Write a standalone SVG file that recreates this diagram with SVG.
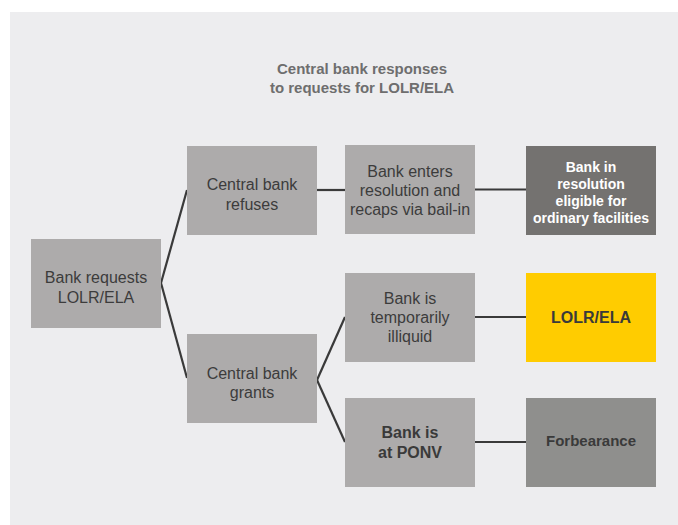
<svg xmlns="http://www.w3.org/2000/svg" width="678" height="525" viewBox="0 0 678 525">
<style>
.bg{fill:#ededef}
.box{fill:#adabab}
.dark{fill:#747270}
.yel{fill:#ffcc00}
.mid{fill:#8f8f8d}
text{font-family:"Liberation Sans",Arial,sans-serif;text-anchor:middle}
.t{font-size:16px;fill:#3c3c3c}
.b{font-size:16px;font-weight:bold;fill:#3a3a3a}
.w{font-size:14px;font-weight:bold;fill:#ffffff}
.title{font-size:15px;font-weight:bold;fill:#6e6e6e}
.conn line{stroke:#3a3a3a;stroke-width:2.2;fill:none}
</style>
<rect class="bg" x="10" y="12" width="668" height="513"/>
<g id="title">
<text class="title" x="362" y="74">Central bank responses</text>
<text class="title" x="362" y="93">to requests for LOLR/ELA</text>
</g>
<g class="conn" id="connectors">
<line x1="161" y1="283" x2="187" y2="190"/>
<line x1="161" y1="283" x2="187" y2="378"/>
<line x1="317" y1="190" x2="345" y2="190"/>
<line x1="475" y1="189.5" x2="526" y2="189.5"/>
<line x1="317" y1="380" x2="345" y2="317"/>
<line x1="317" y1="380" x2="345" y2="442"/>
<line x1="475" y1="317" x2="526" y2="317"/>
<line x1="475" y1="442" x2="526" y2="442"/>
</g>
<g id="n-request">
<rect class="box" x="31" y="239" width="130" height="89"/>
<text class="t" x="96" y="283">Bank requests</text>
<text class="t" x="96" y="303">LOLR/ELA</text>
</g>
<g id="n-refuses">
<rect class="box" x="187" y="146" width="130" height="89"/>
<text class="t" x="252" y="190">Central bank</text>
<text class="t" x="252" y="210">refuses</text>
</g>
<g id="n-enters">
<rect class="box" x="345" y="145" width="130" height="89"/>
<text class="t" x="410" y="177">Bank enters</text>
<text class="t" x="410" y="196">resolution and</text>
<text class="t" x="410" y="215">recaps via bail-in</text>
</g>
<g id="n-resolution">
<rect class="dark" x="526" y="146" width="130" height="89"/>
<text class="w" x="591" y="172">Bank in</text>
<text class="w" x="591" y="189">resolution</text>
<text class="w" x="591" y="206">eligible for</text>
<text class="w" x="591" y="223">ordinary facilities</text>
</g>
<g id="n-grants">
<rect class="box" x="187" y="334" width="130" height="89"/>
<text class="t" x="252" y="379">Central bank</text>
<text class="t" x="252" y="398">grants</text>
</g>
<g id="n-illiquid">
<rect class="box" x="345" y="273" width="130" height="89"/>
<text class="t" x="410" y="304">Bank is</text>
<text class="t" x="410" y="323">temporarily</text>
<text class="t" x="410" y="342">illiquid</text>
</g>
<g id="n-lolr">
<rect class="yel" x="526" y="273" width="130" height="89"/>
<text class="b" x="591" y="323">LOLR/ELA</text>
</g>
<g id="n-ponv">
<rect class="box" x="345" y="398" width="130" height="89"/>
<text class="b" x="410" y="438">Bank is</text>
<text class="b" x="410" y="458">at PONV</text>
</g>
<g id="n-forbearance">
<rect class="mid" x="526" y="398" width="130" height="89"/>
<text class="b" x="591" y="446" style="font-size:15px">Forbearance</text>
</g>
</svg>
